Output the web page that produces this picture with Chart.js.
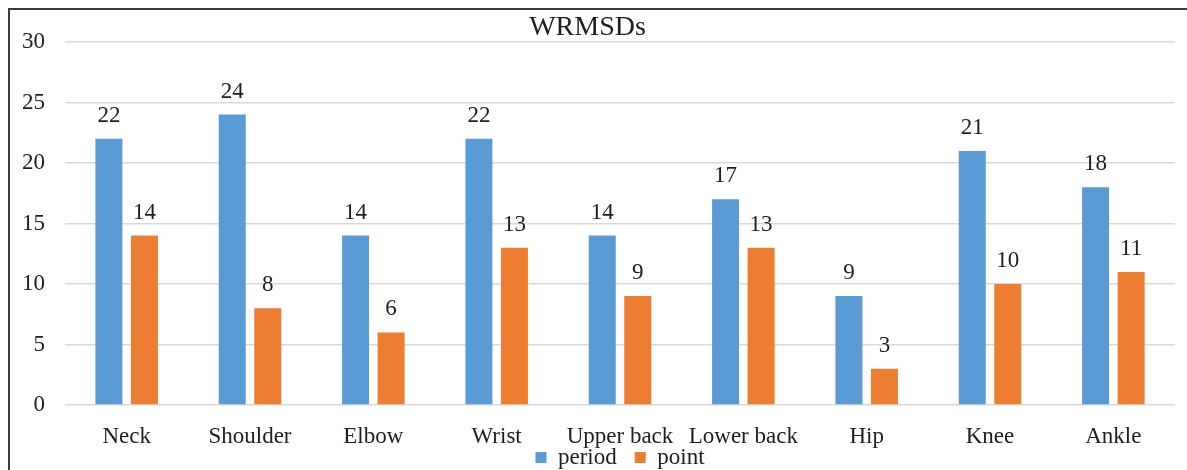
<!DOCTYPE html>
<html>
<head>
<meta charset="utf-8">
<script src="https://cdn.jsdelivr.net/npm/chart.js@4/dist/chart.umd.min.js"></script>
<style>
  body { margin: 0; background: #fff; }
  #wrap { position: relative; width: 1187px; height: 470px; overflow: hidden; }
  #frame {
    position: absolute; left: 8px; top: 8px; right: -4px; bottom: -4px;
    border-top: 2px solid #3a3a3a; border-left: 2px solid #3a3a3a;
    pointer-events: none;
  }
</style>
</head>
<body>
<div id="wrap">
  <canvas id="myBarChart" width="1187" height="470"></canvas>
  <div id="frame"></div>
</div>
<script>
var categories = ['Neck', 'Shoulder', 'Elbow', 'Wrist', 'Upper back', 'Lower back', 'Hip', 'Knee', 'Ankle'];
var periodValues = [22, 24, 14, 22, 14, 17, 9, 21, 18];
var pointValues = [14, 8, 6, 13, 9, 13, 3, 10, 11];
var yTicks = [0, 5, 10, 15, 20, 25, 30];

var serif = 'Liberation Serif';
var textColor = '#1e1e1e';

// numbers above each bar
var barLabels = {
    id: 'barLabels',
    afterDatasetsDraw: function(chart) {
        var ctx = chart.ctx;
        ctx.save();
        ctx.font = '23px "' + serif + '"';
        ctx.fillStyle = textColor;
        ctx.textAlign = 'center';
        ctx.textBaseline = 'alphabetic';
        chart.data.datasets.forEach(function(ds, i) {
            chart.getDatasetMeta(i).data.forEach(function(bar, j) {
                ctx.fillText(ds.data[j], bar.x, bar.y - 17);
            });
        });
        ctx.restore();
    }
};

// pull the legend up so it tucks under the category labels
var legendNudge = {
    id: 'legendNudge',
    afterLayout: function(chart) {
        if (chart.legend) {
            chart.legend.top -= 23;
            chart.legend.bottom -= 23;
        }
    }
};

var ctx = document.getElementById('myBarChart').getContext('2d');
var myBarChart = new Chart(ctx, {
    type: 'bar',
    data: {
        labels: categories,
        datasets: [{
            label: 'period',
            data: periodValues,
            backgroundColor: '#5B9BD5',
            barPercentage: 0.76,
            categoryPercentage: 0.576
        }, {
            label: 'point',
            data: pointValues,
            backgroundColor: '#ED7D31',
            barPercentage: 0.76,
            categoryPercentage: 0.576
        }]
    },
    options: {
        responsive: false,
        animation: false,
        layout: { padding: { left: 0, right: 12, top: -1, bottom: -32 } },
        plugins: {
            title: {
                display: true,
                text: 'WRMSDs',
                color: textColor,
                font: { family: serif, size: 28, weight: 'normal', lineHeight: 1 },
                padding: { top: 15, bottom: 0 }
            },
            legend: {
                position: 'bottom',
                fullSize: false,
                labels: {
                    color: textColor,
                    font: { family: serif, size: 23, lineHeight: 1 },
                    boxWidth: 11,
                    boxHeight: 11,
                    padding: 18
                }
            },
            tooltip: { enabled: false }
        },
        scales: {
            x: {
                afterFit: function(scale) { scale.height = 46; },
                grid: { display: false, drawTicks: false },
                border: { display: false },
                ticks: {
                    color: textColor,
                    font: { family: serif, size: 23, lineHeight: 1 },
                    padding: 20,
                    maxRotation: 0,
                    autoSkip: false
                }
            },
            y: {
                min: 0,
                max: 30,
                afterBuildTicks: function(scale) {
                    scale.ticks = yTicks.map(function(v) { return { value: v }; });
                },
                afterFit: function(scale) { scale.width = 65; },
                grid: { color: '#d9d9d9', lineWidth: 1.5, drawTicks: false },
                border: { display: false },
                ticks: {
                    color: textColor,
                    font: { family: serif, size: 23 },
                    padding: 20
                }
            }
        }
    },
    plugins: [barLabels, legendNudge]
});
</script>
</body>
</html>
